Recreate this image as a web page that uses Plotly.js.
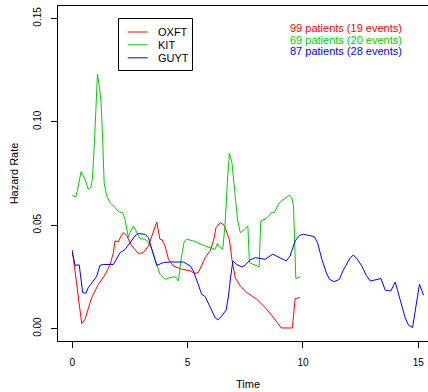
<!DOCTYPE html>
<html>
<head>
<meta charset="utf-8">
<script src="https://cdn.plot.ly/plotly-3.0.1.min.js"></script>
<style>
html, body { margin: 0; padding: 0; overflow: hidden; background: #fff; }
#chart { width: 440px; height: 392px; }
</style>
</head>
<body>
<div id="chart"></div>
<script>
// ---- data ----
const seriesNames = ["OXFT", "KIT", "GUYT"];
const seriesNotes = ["99 patients (19 events)", "69 patients (20 events)", "87 patients (28 events)"];

const oxftTime = [0, 0.41, 0.55, 0.84, 1.13, 1.42, 1.64, 1.78, 1.85, 2.0, 2.1, 2.21, 2.36, 2.58, 2.86, 3.08, 3.30, 3.49, 3.66, 3.80, 3.90, 4.02, 4.17, 4.38, 4.75, 5.11, 5.32, 5.47, 5.61, 5.76, 5.97, 6.12, 6.23, 6.41, 6.58, 6.70, 6.81, 6.92, 7.06, 7.28, 7.57, 8.0, 8.36, 8.72, 9.06, 9.54, 9.66, 9.86];
const oxftRate = [0.038, 0.0024, 0.0045, 0.015, 0.0214, 0.026, 0.031, 0.0367, 0.0424, 0.042, 0.0445, 0.0464, 0.0448, 0.040, 0.0363, 0.0367, 0.040, 0.0456, 0.0515, 0.0432, 0.0428, 0.040, 0.0335, 0.0303, 0.0287, 0.0279, 0.0267, 0.0272, 0.031, 0.0343, 0.0375, 0.0424, 0.0488, 0.0513, 0.050, 0.0464, 0.0432, 0.0335, 0.0247, 0.0206, 0.0174, 0.0142, 0.0102, 0.0053, 0.0003, 0.0003, 0.0145, 0.015];

const kitTime = [0, 0.15, 0.22, 0.38, 0.55, 0.69, 0.80, 0.87, 0.96, 1.09, 1.17, 1.25, 1.32, 1.38, 1.49, 1.64, 1.85, 2.0, 2.18, 2.29, 2.43, 2.50, 2.65, 2.82, 2.94, 3.15, 3.30, 3.44, 3.66, 3.80, 4.02, 4.24, 4.46, 4.60, 4.72, 4.85, 4.96, 5.25, 5.68, 6.19, 6.29, 6.38, 6.52, 6.62, 6.72, 6.81, 6.92, 7.02, 7.16, 7.28, 7.39, 7.49, 7.61, 7.68, 7.85, 8.10, 8.17, 8.36, 8.50, 8.61, 8.79, 8.89, 9.01, 9.23, 9.41, 9.52, 9.59, 9.69, 9.88];
const kitRate = [0.0645, 0.0636, 0.0666, 0.0759, 0.0722, 0.0674, 0.0682, 0.0722, 0.090, 0.123, 0.1173, 0.1093, 0.090, 0.0706, 0.0641, 0.0609, 0.0585, 0.0566, 0.056, 0.0528, 0.044, 0.0464, 0.0496, 0.0464, 0.0435, 0.0432, 0.0416, 0.0383, 0.0303, 0.0263, 0.0238, 0.0247, 0.0251, 0.023, 0.034, 0.042, 0.0432, 0.0424, 0.0403, 0.0383, 0.0412, 0.0396, 0.0383, 0.0496, 0.0706, 0.0848, 0.0803, 0.0674, 0.0529, 0.0464, 0.0472, 0.0484, 0.0496, 0.0319, 0.0311, 0.0298, 0.052, 0.0529, 0.0542, 0.0558, 0.0564, 0.0593, 0.0612, 0.0629, 0.0645, 0.0633, 0.0593, 0.0242, 0.025];

const guytTime = [0, 0.12, 0.30, 0.45, 0.59, 0.69, 0.91, 1.06, 1.20, 1.34, 1.78, 1.93, 2.07, 2.29, 2.50, 2.72, 2.86, 3.15, 3.30, 3.44, 3.66, 3.95, 4.24, 4.82, 5.11, 5.25, 5.40, 5.61, 5.76, 5.97, 6.19, 6.31, 6.48, 6.67, 6.77, 6.87, 6.96, 7.13, 7.35, 7.49, 7.71, 7.93, 8.36, 8.69, 9.01, 9.27, 9.44, 9.66, 9.85, 10.02, 10.24, 10.49, 10.63, 10.82, 11.01, 11.15, 11.35, 11.58, 11.73, 11.90, 12.05, 12.19, 12.34, 12.55, 12.74, 12.92, 13.13, 13.38, 13.57, 13.81, 14.0, 14.14, 14.29, 14.43, 14.58, 14.75, 14.91, 15.05, 15.23];
const guytRate = [0.037, 0.0306, 0.0308, 0.0174, 0.0171, 0.0198, 0.023, 0.0254, 0.0306, 0.031, 0.031, 0.0343, 0.0367, 0.0383, 0.0416, 0.0448, 0.046, 0.0456, 0.044, 0.0383, 0.0306, 0.0319, 0.0322, 0.0322, 0.0303, 0.0279, 0.023, 0.0166, 0.0155, 0.0102, 0.0053, 0.0042, 0.0061, 0.009, 0.0158, 0.0254, 0.0327, 0.031, 0.0298, 0.0306, 0.0332, 0.0343, 0.0335, 0.036, 0.034, 0.0327, 0.0351, 0.0424, 0.0451, 0.0456, 0.0451, 0.0445, 0.0416, 0.0335, 0.0271, 0.0238, 0.0227, 0.0238, 0.0279, 0.031, 0.0343, 0.0356, 0.0338, 0.0303, 0.0258, 0.023, 0.0234, 0.0242, 0.0185, 0.0182, 0.0225, 0.0174, 0.0109, 0.0053, 0.0016, 0.0005, 0.0109, 0.0214, 0.0161];

const xTickVals = [0, 5, 10, 15];
const xTickText = ["0", "5", "10", "15"];
const yTickVals = [0, 0.05, 0.10, 0.15];
const yTickText = ["0.00", "0.05", "0.10", "0.15"];

// ---- styling ----
const colors = ["#FF0000", "#00CD00", "#0000FF"];
const FONT = "'Liberation Sans', Arial, Helvetica, sans-serif";

const xs = [oxftTime, kitTime, guytTime];
const ys = [oxftRate, kitRate, guytRate];

const traces = seriesNames.map((n, i) => ({
  type: "scatter", mode: "lines", name: n,
  x: xs[i], y: ys[i],
  line: { color: colors[i], width: 1 },
  showlegend: false, hoverinfo: "skip"
}));

// pixel -> paper helpers (plot area: x 58..438, y 6..341)
const L = 58, R = 438, T = 6, B = 341;
const px = v => (v - L) / (R - L);
const py = v => (B - v) / (B - T);

const shapes = [];
const annotations = [];

// manual legend box
shapes.push({ type: "rect", xref: "paper", yref: "paper",
  x0: px(118.5), x1: px(192.5), y0: py(70.5), y1: py(18.5),
  line: { color: "#000", width: 1 }, fillcolor: "rgba(0,0,0,0)" });
const legRows = [32, 44.8, 57.8];
seriesNames.forEach((n, i) => {
  shapes.push({ type: "line", xref: "paper", yref: "paper",
    x0: px(127.7), x1: px(147.7), y0: py(legRows[i]), y1: py(legRows[i]),
    line: { color: colors[i], width: 1 } });
  annotations.push({ xref: "paper", yref: "paper", x: px(156), y: py(legRows[i]),
    xanchor: "left", yanchor: "middle", text: n, showarrow: false,
    font: { family: FONT, size: 11, color: "#000" } });
});

// top-right notes
const noteRows = [28.5, 39.7, 51];
seriesNotes.forEach((t, i) => {
  annotations.push({ xref: "paper", yref: "paper", x: px(404), y: py(noteRows[i]),
    xanchor: "right", yanchor: "middle", text: t, showarrow: false,
    font: { family: FONT, size: 11, color: colors[i] } });
});

const layout = {
  width: 440, height: 392,
  margin: { l: L, r: 440 - R, t: T, b: 392 - B },
  paper_bgcolor: "#fff", plot_bgcolor: "#fff",
  font: { family: FONT, size: 10, color: "#000" },
  showlegend: false,
  xaxis: {
    range: [(L - 72.3) / 23.067, (R - 72.3) / 23.067],
    tickvals: xTickVals, ticktext: xTickText,
    ticks: "outside", ticklen: 6, tickwidth: 1, tickcolor: "#000",
    showline: true, linecolor: "#000", linewidth: 1, mirror: true,
    showgrid: false, zeroline: false, ticklabelstandoff: 6,
    tickfont: { family: FONT, size: 10, color: "#000" },
    title: { text: "Time", font: { family: FONT, size: 11, color: "#000" }, standoff: 13 }
  },
  yaxis: {
    range: [-0.006, 0.156],
    tickvals: yTickVals, ticktext: yTickText, tickangle: -90,
    ticks: "outside", ticklen: 6, tickwidth: 1, tickcolor: "#000",
    showline: true, linecolor: "#000", linewidth: 1, mirror: true,
    showgrid: false, zeroline: false, ticklabelstandoff: 6,
    tickfont: { family: FONT, size: 10, color: "#000" },
    title: { text: "Hazard Rate", font: { family: FONT, size: 11, color: "#000" }, standoff: 11 }
  },
  shapes: shapes,
  annotations: annotations
};

Plotly.newPlot("chart", traces, layout, { staticPlot: true, displayModeBar: false });
</script>
</body>
</html>
